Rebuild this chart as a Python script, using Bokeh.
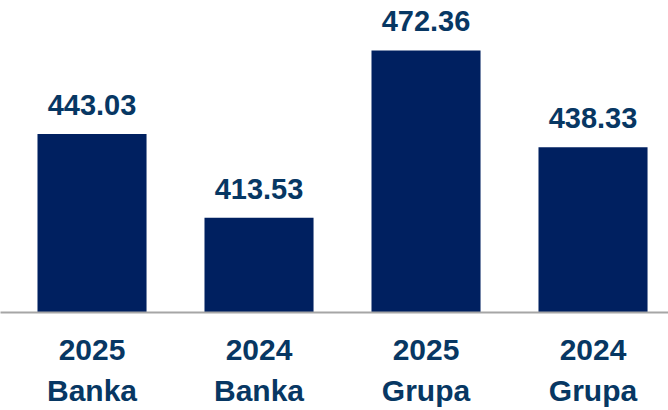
from bokeh.plotting import figure
from bokeh.models import Range1d, FixedTicker, ColumnDataSource
from bokeh.core.properties import value
from bokeh.embed import file_html
from bokeh.resources import INLINE

categories = ["2025\nBanka", "2024\nBanka", "2025\nGrupa", "2024\nGrupa"]
values = [443.03, 413.53, 472.36, 438.33]
positions = [0.5, 1.5, 2.5, 3.5]

y_start = 380.26
y_end = 489.9

src = ColumnDataSource(dict(x=positions, top=values,
                            label=["%.2f" % v for v in values]))

p = figure(width=668, height=410, output_backend="svg", toolbar_location=None,
           x_range=Range1d(-0.048, 3.952), y_range=Range1d(y_start, y_end),
           min_border_left=0, min_border_right=0, min_border_top=0, min_border_bottom=0)
p.outline_line_color = None
p.grid.visible = False
p.yaxis.visible = False

p.vbar(x="x", top="top", bottom=y_start, width=0.653, source=src,
       fill_color="#002060", line_color=None)
p.text(x="x", y="top", text="label", source=src, y_offset=-29,
       text_align="center", text_baseline="alphabetic",
       text_font_size="29px", text_font_style="bold", text_color="#073763",
       text_font=value("Liberation Sans"))

xa = p.xaxis[0]
xa.ticker = FixedTicker(ticks=positions)
xa.major_label_overrides = {pos: c for pos, c in zip(positions, categories)}
xa.axis_line_color = "#a6a6a6"
xa.axis_line_width = 2
xa.major_tick_line_color = None
xa.minor_tick_line_color = None
xa.major_label_standoff = 14
xa.major_label_text_font = "Liberation Sans"
xa.major_label_text_font_style = "bold"
xa.major_label_text_font_size = "30px"
xa.major_label_text_color = "#073763"
xa.major_label_text_line_height = 1.26

open("out.html", "w").write(file_html(p, INLINE))
